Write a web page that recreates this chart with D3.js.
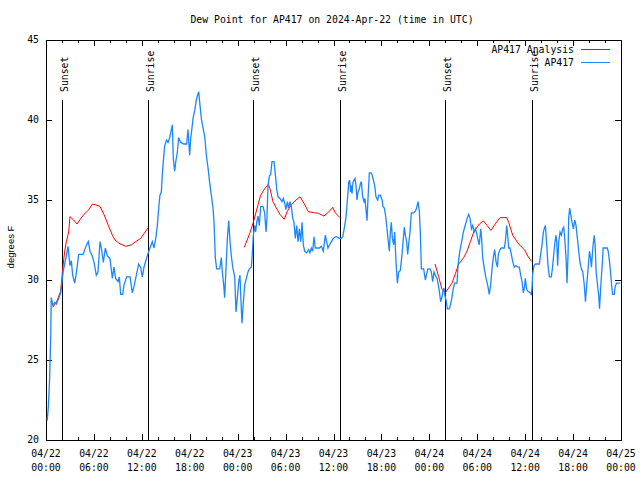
<!DOCTYPE html>
<html><head><meta charset="utf-8">
<script src="https://cdn.jsdelivr.net/npm/d3@7"></script>
<style>
body{margin:0;background:#fff}
svg{display:block}
text{font-family:"DejaVu Sans Mono",monospace;font-size:9.8px;fill:#000}
</style>
</head><body>
<svg id="c" width="640" height="480"></svg>
<script>
const title = "Dew Point for AP417 on 2024-Apr-22 (time in UTC)";
const yLabel = "degrees F";
const seriesNames = ["AP417 Analysis", "AP417"];
const seriesColors = ["#ff0000", "#1a87ff"];
const startTime = Date.UTC(2024, 3, 22, 0, 0);
const xMajorTickHours = [0, 6, 12, 18, 24, 30, 36, 42, 48, 54, 60, 66, 72];
const yTicks = [20, 25, 30, 35, 40, 45];
const sunEventHours = [2.04, 12.8, 25.95, 36.85, 50.0, 60.9];
const sunEventLabels = ["Sunset", "Sunrise", "Sunset", "Sunrise", "Sunset", "Sunrise"];

const obsHours = [0.15,0.3,0.45,0.6,0.65,0.88,1.1,1.3,1.63,1.84,1.96,2.05,2.17,2.34,2.55,2.75,3.0,3.17,3.34,3.59,3.76,3.92,4.09,4.67,4.84,5.09,5.30,5.51,5.80,6.01,6.30,6.51,6.76,6.93,7.18,7.43,7.68,8.01,8.31,8.51,8.72,9.02,9.18,9.35,9.60,9.77,10.10,10.52,10.81,11.02,11.23,11.60,11.85,12.06,12.27,12.61,12.81,13.02,13.31,13.52,13.77,13.94,14.15,14.27,14.44,14.57,14.69,14.86,15.11,15.28,15.49,15.82,15.94,16.11,16.28,16.45,16.61,16.86,17.28,17.61,17.78,17.99,18.12,18.28,18.41,18.62,18.83,18.95,19.12,19.24,19.45,19.66,19.87,20.08,20.29,20.49,20.70,20.91,21.04,21.20,21.37,21.75,21.95,22.08,22.25,22.37,22.50,22.71,22.88,23.04,23.21,23.38,23.63,23.79,23.96,24.13,24.29,24.38,24.54,24.71,24.88,25.09,25.29,25.46,25.71,25.84,25.96,26.13,26.25,26.38,26.55,26.71,26.88,27.17,27.38,27.55,27.67,27.80,27.97,28.13,28.30,28.55,28.72,28.89,29.05,29.30,29.55,29.72,29.89,30.05,30.22,30.39,30.55,30.72,30.89,31.05,31.22,31.39,31.56,31.72,31.89,32.06,32.22,32.39,32.64,32.89,33.06,33.22,33.39,33.56,33.72,33.97,34.23,34.48,34.73,34.98,35.14,35.31,35.52,35.73,35.98,36.23,36.44,36.73,36.98,37.15,37.27,37.40,37.56,37.69,37.82,37.90,38.02,38.15,38.23,38.32,38.44,38.57,38.69,38.82,38.94,39.07,39.24,39.36,39.49,39.65,39.82,39.94,40.07,40.20,40.32,40.49,40.70,40.82,40.99,41.16,41.32,41.53,41.66,41.87,42.09,42.19,42.36,42.53,42.70,42.82,42.99,43.12,43.24,43.37,43.54,43.66,43.83,44.00,44.16,44.37,44.58,44.71,44.87,45.00,45.16,45.29,45.41,45.58,45.75,46.04,46.25,46.41,46.58,46.75,46.87,47.00,47.29,47.50,47.67,47.83,48.08,48.25,48.42,48.59,48.75,48.96,49.13,49.25,49.42,49.59,49.71,49.84,49.92,50.09,50.26,50.51,50.67,50.84,51.01,51.17,51.47,51.59,51.76,51.89,52.09,52.26,52.43,52.60,52.76,52.93,53.10,53.27,53.43,53.60,53.77,53.94,54.05,54.26,54.43,54.55,54.68,54.89,55.10,55.30,55.51,55.68,55.85,56.01,56.18,56.35,56.52,56.64,56.85,57.02,57.39,57.52,57.69,57.81,57.94,58.10,58.27,58.44,58.64,58.85,59.10,59.27,59.44,59.61,59.77,59.90,60.02,60.19,60.36,60.61,60.77,60.86,60.94,61.11,61.28,61.57,61.78,61.94,62.11,62.28,62.44,62.53,62.70,62.86,63.03,63.28,63.45,63.61,63.74,63.86,63.95,64.07,64.20,64.37,64.53,64.70,64.83,64.95,65.12,65.24,65.37,65.45,65.58,65.70,65.87,66.04,66.21,66.37,66.54,66.71,66.88,67.04,67.21,67.38,67.55,67.71,67.88,68.05,68.18,68.30,68.47,68.64,68.76,68.89,69.06,69.22,69.31,69.48,69.64,69.77,69.94,70.27,70.40,70.56,70.69,70.82,70.94,71.15,71.28,71.44,71.90];
const obsValues = [21.2,22.1,23.8,26.6,28.9,28.4,28.6,28.5,28.9,29.2,29.7,30.1,30.6,31.0,31.5,32.1,30.9,31.2,30.3,29.8,30.3,30.9,31.6,31.6,31.9,32.2,32.4,31.8,31.5,31.1,30.3,30.5,32.4,32.0,31.1,32.0,31.5,31.35,30.1,30.8,30.1,29.9,30.2,29.1,29.1,29.7,30.2,30.2,29.2,29.6,30.1,31.0,30.8,30.2,30.8,31.4,31.7,32.0,32.4,32.0,32.7,33.4,34.7,35.3,35.5,36.6,37.4,38.4,38.75,38.6,38.9,39.7,37.6,36.8,37.5,38.0,38.9,38.6,38.5,38.5,39.4,37.8,38.85,39.5,40.1,40.6,41.25,41.5,41.77,41.15,40.1,39.5,39.0,37.8,37.0,36.1,35.3,34.5,33.6,31.4,30.7,30.7,31.4,30.5,29.7,28.9,30.3,32.6,33.7,32.4,31.5,30.8,30.2,28.0,28.9,29.9,30.3,29.1,27.3,28.6,29.7,30.1,30.5,30.7,30.8,31.7,32.8,33.4,33.0,33.6,34.0,33.4,34.6,34.6,34.2,33.0,33.9,35.9,36.5,36.6,37.4,37.4,36.6,35.7,35.2,35.1,34.9,35.1,34.8,34.4,34.9,34.5,34.9,34.6,33.9,33.6,32.6,33.4,32.4,33.2,32.4,33.6,32.2,31.8,31.7,31.9,31.7,32.0,31.8,32.7,32.0,32.0,32.0,32.1,31.8,32.8,32.4,32.0,32.2,32.4,32.6,32.7,32.7,32.6,32.6,32.7,33.0,33.4,33.9,34.7,35.5,36.1,36.25,35.5,35.9,35.4,36.1,36.25,36.35,35.9,35.0,35.5,35.7,36.0,36.15,35.2,34.9,35.1,34.4,33.7,35.1,36.7,36.7,36.6,36.25,35.9,35.2,35.0,35.3,35.3,35.0,34.6,34.5,34.0,33.2,32.6,31.8,33.0,33.6,32.6,32.2,33.0,31.1,29.8,30.5,30.6,31.6,32.4,33.3,32.8,32.4,31.6,32.2,33.0,34.2,34.2,34.3,34.5,34.9,34.3,33.0,30.7,30.7,30.0,30.4,30.7,30.7,30.5,29.9,30.5,30.3,30.1,29.7,29.3,28.65,28.95,29.3,29.5,29.1,28.75,28.2,28.2,28.5,28.95,29.5,29.8,29.8,30.9,31.6,32.0,32.5,33.0,33.3,33.6,33.9,34.1,33.85,33.2,33.4,33.0,33.2,32.9,32.6,32.2,33.2,32.6,31.4,30.7,30.1,29.7,29.1,29.7,30.7,31.4,31.9,31.15,30.8,31.6,31.9,32.0,32.0,32.4,33.4,32.8,32.0,32.0,31.6,31.15,30.8,30.9,30.8,30.8,30.3,29.9,29.2,29.5,30.1,29.4,29.3,29.2,29.1,29.5,30.4,30.9,31.0,31.0,31.0,31.6,32.2,33.0,33.3,33.4,32.2,30.9,30.2,30.2,30.9,31.8,32.4,32.8,32.4,30.9,32.4,33.0,32.8,33.2,33.3,32.6,31.4,29.8,31.6,33.9,34.5,34.1,33.6,33.2,33.75,33.4,32.6,31.8,31.05,30.7,30.5,29.8,28.65,29.7,30.7,31.8,31.4,30.8,32.0,32.8,32.2,30.5,29.7,28.95,28.2,29.7,30.9,32.0,32.0,32.0,31.8,31.15,30.5,29.7,29.1,29.1,29.6,29.8,29.8];

const anaHours = [0.84,1.3,1.84,2.05,2.34,2.55,2.84,3.0,3.46,3.88,4.3,4.76,5.38,5.80,6.21,6.76,7.26,7.81,8.31,8.64,9.14,9.98,10.69,11.23,11.85,12.27,12.81,
  null,
  24.83,25.5,25.96,26.55,26.88,27.38,27.84,28.05,28.42,28.84,29.3,29.84,30.22,30.72,31.3,31.8,32.3,32.85,33.64,34.1,34.8,35.3,35.9,36.23,36.8,
  null,
  48.71,49.17,49.59,50.0,50.42,50.84,51.26,51.68,52.30,52.72,53.14,53.56,54.27,54.76,55.25,55.72,56.25,56.85,57.69,57.94,58.44,58.85,59.27,59.90,60.32,60.82];
const anaValues = [28.3,28.6,29.3,30.5,31.8,32.4,33.0,33.96,33.75,33.5,33.8,34.1,34.4,34.75,34.7,34.6,34.1,33.4,32.8,32.5,32.3,32.1,32.2,32.4,32.6,32.9,33.27,
  null,
  32.04,32.9,33.6,34.7,35.3,35.7,35.98,35.7,34.9,34.5,34.1,33.8,34.3,34.7,35.0,35.2,34.8,34.27,34.2,34.17,34.0,34.2,34.54,34.2,33.9,
  null,
  31.0,30.2,29.4,29.2,29.5,29.8,30.4,31.0,31.4,31.8,32.4,33.0,33.5,33.7,33.4,33.1,33.5,33.9,33.9,33.6,32.8,32.5,32.2,31.9,31.5,31.15];

const hToDate = h => new Date(startTime + h * 3600e3);
const W = 640, H = 480;
const L = 46, R = 621, T = 40, B = 440;
const svg = d3.select("#c");

const x = d3.scaleUtc().domain([hToDate(0), hToDate(72)]).range([L, R]);
const y = d3.scaleLinear().domain([20, 45]).range([B, T]);

const majorDates = xMajorTickHours.map(hToDate);
const minorDates = d3.range(0, 73, 2).filter(h => h % 6 !== 0).map(hToDate);

const axG = svg.append("g").attr("shape-rendering", "crispEdges");
function styleAxis(g) {
  g.select(".domain").remove();
  g.selectAll("line").attr("stroke", "#000");
  g.selectAll("text").remove();
}
axG.append("g").attr("transform", `translate(0,${B})`)
  .call(d3.axisBottom(x).tickValues(majorDates).tickSize(-6)).call(styleAxis);
axG.append("g").attr("transform", `translate(0,${B})`)
  .call(d3.axisBottom(x).tickValues(minorDates).tickSize(-3)).call(styleAxis);
axG.append("g").attr("transform", `translate(0,${T})`)
  .call(d3.axisTop(x).tickValues(majorDates).tickSize(-6)).call(styleAxis);
axG.append("g").attr("transform", `translate(0,${T})`)
  .call(d3.axisTop(x).tickValues(minorDates).tickSize(-3)).call(styleAxis);
axG.append("g").attr("transform", `translate(${L},0)`)
  .call(d3.axisLeft(y).tickValues(yTicks).tickSize(-6)).call(styleAxis);
axG.append("g").attr("transform", `translate(${R},0)`)
  .call(d3.axisRight(y).tickValues(yTicks).tickSize(-6)).call(styleAxis);

axG.append("rect").attr("x", L).attr("y", T).attr("width", R - L).attr("height", B - T)
  .attr("fill", "none").attr("stroke", "#000");

// y tick labels
svg.append("g").selectAll("text").data(yTicks).join("text")
  .attr("x", L - 7).attr("y", d => y(d)).attr("dy", "0.35em")
  .attr("text-anchor", "end").text(d => d);

// x tick labels (two lines)
const fmtD = d3.utcFormat("%m/%d"), fmtT = d3.utcFormat("%H:%M");
const xl = svg.append("g").selectAll("text").data(majorDates).join("text")
  .attr("text-anchor", "middle");
xl.append("tspan").attr("x", d => x(d)).attr("y", 457).text(d => fmtD(d));
xl.append("tspan").attr("x", d => x(d)).attr("y", 471).text(d => fmtT(d));

// title
svg.append("text").attr("x", 332).attr("y", 23).attr("text-anchor", "middle").text(title);

// y label
svg.append("text").attr("transform", "translate(14,247) rotate(-90)")
  .attr("text-anchor", "middle")
  .style("font-family", "'Liberation Sans', Arial, sans-serif").style("font-size", "9.5px")
  .text(yLabel);

// sun events
const sunG = svg.append("g");
sunEventHours.forEach((h, i) => {
  const sx = x(hToDate(h));
  sunG.append("line").attr("x1", sx).attr("x2", sx).attr("y1", y(20)).attr("y2", 99.5)
    .attr("stroke", "#000").attr("stroke-width", 1.2).attr("shape-rendering", "crispEdges");
  sunG.append("text").attr("transform", `translate(${sx + 5.3},92) rotate(-90)`)
    .attr("text-anchor", "start").text(sunEventLabels[i]);
});

// data lines
const obsData = obsHours.map((h, i) => ({ t: hToDate(h), v: obsValues[i] }));
const anaData = anaHours.map((h, i) => ({ t: h == null ? null : hToDate(h), v: anaValues[i] }));
const line = d3.line().defined(d => d.v != null && d.t != null).x(d => x(d.t)).y(d => y(d.v));

svg.append("path").datum(anaData).attr("d", line)
  .attr("fill", "none").attr("stroke", seriesColors[0]).attr("stroke-width", 1);
svg.append("path").datum(obsData).attr("d", line)
  .attr("fill", "none").attr("stroke", seriesColors[1]).attr("stroke-width", 1.3);

// legend
const legY = [49.5, 62.5];
seriesNames.forEach((n, i) => {
  svg.append("text").attr("x", 574).attr("y", legY[i]).attr("dy", "0.35em")
    .attr("text-anchor", "end").text(n);
  svg.append("line").attr("x1", 581).attr("x2", 610).attr("y1", legY[i]).attr("y2", legY[i])
    .attr("stroke", seriesColors[i]).attr("stroke-width", i === 0 ? 1 : 1.3)
    .attr("shape-rendering", "crispEdges");
});
</script>
</body></html>
